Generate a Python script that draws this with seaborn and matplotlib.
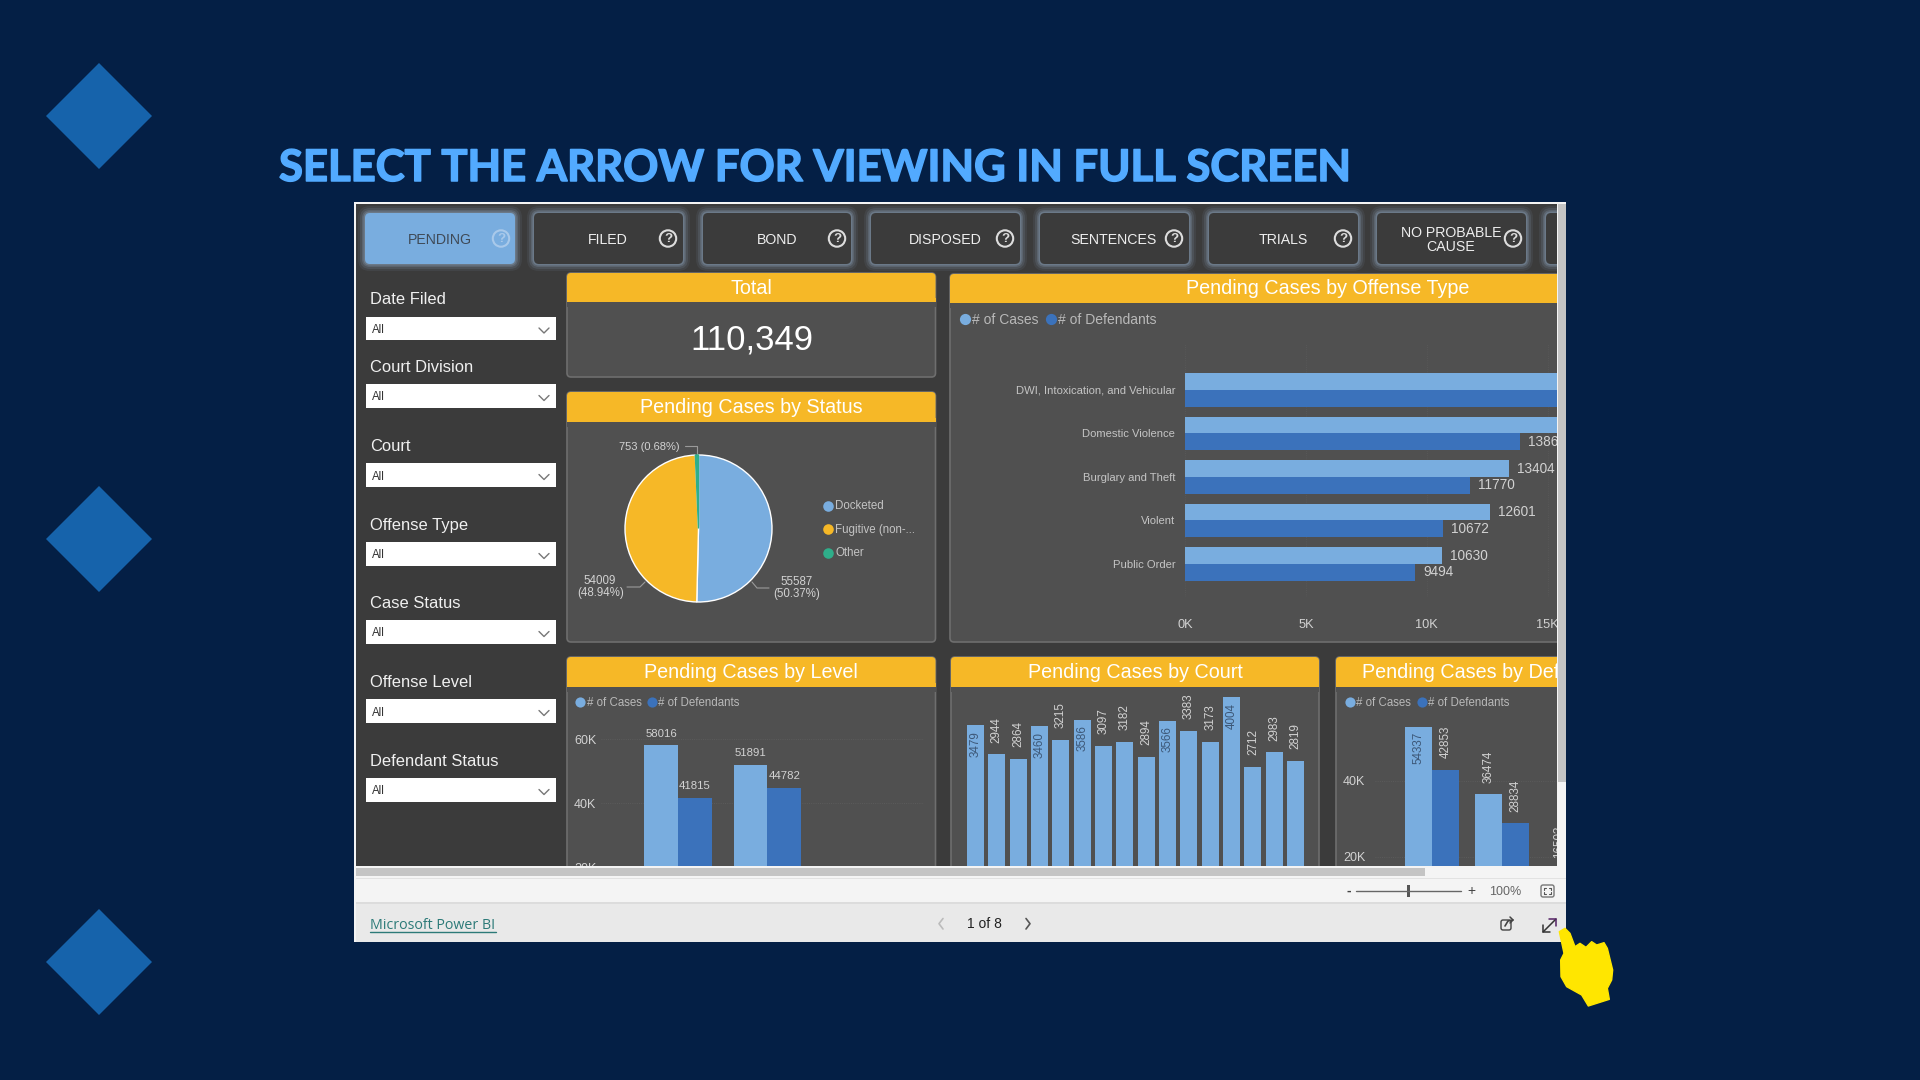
import matplotlib
matplotlib.use("Agg")
import matplotlib.pyplot as plt
import matplotlib.patheffects as pe
from matplotlib.patches import Rectangle, FancyBboxPatch, Circle, Polygon
import pandas as pd
import seaborn as sns

# ---------- data ----------
tabs = ["PENDING", "FILED", "BOND", "DISPOSED", "SENTENCES", "TRIALS", "NO PROBABLE\nCAUSE"]
slicers = ["Date Filed", "Court Division", "Court", "Offense Type", "Case Status", "Offense Level", "Defendant Status"]
total_text = "110,349"

status_names = ["Docketed", "Fugitive (non-...", "Other"]
status_values = [55587, 54009, 753]

offense_types = ["DWI, Intoxication, and Vehicular", "Domestic Violence", "Burglary and Theft", "Violent", "Public Order"]
offense_cases = [17400, 15900, 13404, 12601, 10630]
offense_defs = [16200, 13860, 11770, 10672, 9494]

levels = ["Felony", "Misdemeanor"]
level_cases = [58016, 51891]
level_defs = [41815, 44782]

courts = [f"C{i}" for i in range(1, 17)]
court_cases = [3479, 2944, 2864, 3460, 3215, 3586, 3097, 3182, 2894, 3566, 3383, 3173, 4004, 2712, 2983, 2819]

def_status = ["Bond", "Custody", "Other"]
def_cases = [54337, 36474, 16503]
def_defs = [42853, 28834, 12000]

M1, M2 = "# of Cases", "# of Defendants"

# ---------- colours ----------
NAVY = "#041f45"; DIAMOND = "#1663ab"; TITLE = "#52aaff"
DASH = "#3b3b3b"; CARD = "#505050"; EDGE = "#6e6e6e"; AMBER = "#f6b827"
LIGHT = "#79addf"; DARK = "#3b72bb"; GREEN = "#2fae8a"; TXT = "#d2d2d2"

sns.set_theme(style="white")
plt.rcParams["font.family"] = ["Liberation Sans", "DejaVu Sans"]

W, H = 1920, 1080
fig = plt.figure(figsize=(W / 100, H / 100), dpi=100, facecolor=NAVY)


def px_axes(x0, y0, x1, y1, z):
    ax = fig.add_axes([x0 / W, 1 - y1 / H, (x1 - x0) / W, (y1 - y0) / H], zorder=z)
    ax.patch.set_alpha(0)
    return ax


def canvas(z):
    ax = px_axes(0, 0, W, H, z)
    ax.set_xlim(0, W); ax.set_ylim(H, 0); ax.axis("off")
    return ax


bg = canvas(0)
top = canvas(6)

# ---------- slide background ----------
for cy in (116, 539, 962):
    bg.add_patch(Polygon([(99, cy - 53), (152, cy), (99, cy + 53), (46, cy)], fc=DIAMOND, ec="none"))
bg.text(279, 168, "SELECT THE ARROW FOR VIEWING IN FULL SCREEN", family="Lato", weight="bold",
        fontsize=31.4, color=TITLE, va="center", ha="left",
        path_effects=[pe.withStroke(linewidth=1.1, foreground=TITLE)])

bg.add_patch(Rectangle((354, 202), 1212, 740, fc="#f4f4f4", ec="none"))
bg.add_patch(Rectangle((356, 204), 1201, 664, fc=DASH, ec="none"))


def rbox(ax, x0, y0, x1, y1, r=4, **kw):
    p = FancyBboxPatch((x0 + r, y0 + r), x1 - x0 - 2 * r, y1 - y0 - 2 * r,
                       boxstyle=f"round,pad={r},rounding_size={r}", **kw)
    ax.add_patch(p)
    return p


# ---------- tab buttons ----------
tab_x = [(365, 515), (534, 683), (703, 851), (871, 1020), (1040, 1189), (1209, 1358), (1377, 1526), (1546, 1640)]
tab_tx = [439.5, 608, 776.7, 945, 1114, 1283, 1451]
tab_q = [501, 668, 837, 1005, 1174, 1343, 1513]
for i, (x0, x1) in enumerate(tab_x):
    if x0 > 1540:
        x1 = 1563
    for g, a in ((7, .08), (5, .12), (3, .18), (1.5, .25)):
        rbox(bg, x0 - g, 213 - g, x1 + g, 264 + g, r=5 + g, fc="#9db8d6", ec="none", alpha=a)
    rbox(bg, x0, 213, x1, 264, r=5, fc=LIGHT if i == 0 else DASH, ec="none")
    if i < len(tabs):
        col = "#3f4a57" if i == 0 else "#eeeeee"
        bg.text(tab_tx[i], 240, tabs[i], color=col, fontsize=10.2, ha="center", va="center", linespacing=1.05)
        qc = "#a9c9ea" if i == 0 else "#dddddd"
        bg.add_patch(Circle((tab_q[i], 238.5), 8.2, fc="none", ec=qc, lw=1.5))
        bg.text(tab_q[i], 239.5, "?", color=qc, fontsize=9.5, ha="center", va="center", weight="bold")

# ---------- slicers ----------
lab_y = [298, 366, 445, 524, 602, 681, 760]
box_y = [(317, 340), (384, 408), (463, 487), (542, 566), (620, 644), (699, 723), (778, 802)]
for name, ly, (b0, b1) in zip(slicers, lab_y, box_y):
    bg.text(370, ly + 1.5, name, color="#f0f0f0", fontsize=11.9, va="center", ha="left")
    bg.add_patch(Rectangle((366, b0), 190, b1 - b0, fc="white", ec="none"))
    bg.text(372, (b0 + b1) / 2 + 1.5, "All", color="#333333", fontsize=8.3, va="center", ha="left")
    m = (b0 + b1) / 2 + 2
    bg.plot([539, 544, 549], [m - 2.5, m + 2.5, m - 2.5], color="#777777", lw=1)


# ---------- cards ----------
def card(x0, y0, x1, hdr, y1, title, tx=None):
    rbox(bg, x0, y0, x1, y1, r=4, fc=CARD, ec=EDGE, lw=1.2)
    rbox(bg, x0, y0, x1, hdr + 4, r=4, fc=AMBER, ec="none")
    bg.add_patch(Rectangle((x0, hdr - 4), x1 - x0, 4, fc=AMBER, ec="none"))
    bg.add_patch(Rectangle((x0, hdr), x1 - x0, 5, fc=CARD, ec="none"))
    bg.text(tx if tx else (x0 + x1) / 2, (y0 + hdr) / 2 + .5, title, color="white", fontsize=14.2, ha="center", va="center")


card(567, 273, 935.5, 302, 377, "Total")
bg.text(752, 339.5, total_text, color="white", fontsize=25, ha="center", va="center")
card(567, 392, 935.5, 422, 642, "Pending Cases by Status")
card(950, 274, 1640, 303, 642, "Pending Cases by Offense Type", tx=1328)
card(567, 657, 935.5, 687, 900, "Pending Cases by Level")
card(951, 657, 1319, 687, 900, "Pending Cases by Court")
card(1336, 657, 1700, 687, 900, "Pending Cases by Defendant Status", tx=1522)


def legend(xs, y, size):
    bg.scatter([xs[0]], [y], s=size * 6.5, color=LIGHT, lw=0, zorder=4)
    bg.scatter([xs[2]], [y], s=size * 6.5, color=DARK, lw=0, zorder=4)
    bg.text(xs[1], y + 1, M1, color="#b9b9b9", fontsize=size, va="center", ha="left")
    bg.text(xs[3], y + 1, M2, color="#b9b9b9", fontsize=size, va="center", ha="left")


legend((964.5, 972, 1051, 1058), 319, 10)
legend((580, 587, 652, 658.5), 701.5, 8.3)
legend((1350, 1356, 1421.5, 1428), 701.5, 8.3)
bg.set_xlim(0, W); bg.set_ylim(H, 0)

# ---------- pie ----------
pie_ax = px_axes(625, 455, 772, 602, 2)
wedges, _ = pie_ax.pie(status_values, colors=[LIGHT, AMBER, GREEN], startangle=90, counterclock=False, radius=1.0)
wedges[2].set_edgecolor(GREEN); wedges[2].set_linewidth(1)
pie_ax.set_xlim(-1, 1); pie_ax.set_ylim(-1, 1)
bg.text(649.5, 446.5, "753 (0.68%)", color=TXT, fontsize=8, ha="center", va="center")
bg.plot([685, 697, 697], [446, 446, 455], color="#9a9a9a", lw=.8)
bg.text(623.5, 587, "54009\n(48.94%)", color=TXT, fontsize=8.3, ha="right", va="center", multialignment="center", linespacing=1.05)
bg.plot([627, 640, 645], [587, 587, 582], color="#9a9a9a", lw=.8)
bg.text(773, 588, "55587\n(50.37%)", color=TXT, fontsize=8.3, ha="left", va="center", multialignment="center", linespacing=1.05)
bg.plot([769, 757, 752], [588, 588, 582], color="#9a9a9a", lw=.8)
for name, c, y in zip(status_names, [LIGHT, AMBER, GREEN], [505.7, 529, 552.7]):
    bg.scatter([828], [y], s=58, color=c, lw=0, zorder=4)
    bg.text(835, y + .5, name, color="#c4c4c4", fontsize=8.3, va="center", ha="left")


# ---------- bar helpers ----------
def long_df(cat_name, cats, a, b):
    return pd.DataFrame({cat_name: list(cats) * 2, "count": list(a) + list(b),
                         "measure": [M1] * len(cats) + [M2] * len(cats)})


def clean(ax):
    for s in ax.spines.values():
        s.set_visible(False)
    ax.set_xlabel(""); ax.set_ylabel("")
    ax.patch.set_alpha(0)


# ---------- offense type ----------
a = px_axes(1185, 343, 1557, 597, 2)
sns.barplot(data=long_df("type", offense_types, offense_cases, offense_defs), y="type", x="count", hue="measure",
            palette=[LIGHT, DARK], saturation=1, width=.77, gap=0, legend=False, ax=a, orient="y", linewidth=0)
a.set_xlim(0, 15385); a.set_ylim(4.759, -1.08)
a.set_xticks([0, 5000, 10000, 15000], ["0K", "5K", "10K", "15K"])
a.tick_params(axis="x", length=0, labelsize=9.2, labelcolor=TXT, pad=16)
a.tick_params(axis="y", length=0, labelsize=8.1, labelcolor="#c4c4c4", pad=7)
a.xaxis.grid(True, color="#5a5a5a", lw=.6, ls=":"); a.set_axisbelow(True)
clean(a)
for c in a.containers:
    a.bar_label(c, fmt="%d", padding=6, color=TXT, fontsize=9.8, clip_on=True)


# ---------- level ----------
b = px_axes(600.6, 690, 924, 932, 2)
sns.barplot(data=long_df("level", levels, level_cases, level_defs), x="level", y="count", hue="measure",
            palette=[LIGHT, DARK], saturation=1, width=.756, gap=0, legend=False, ax=b, linewidth=0)
b.set_xlim(-0.865, 2.75); b.set_ylim(0, 75260)
b.set_yticks([20000, 40000, 60000], ["20K", "40K", "60K"])
b.tick_params(axis="y", length=0, labelsize=9, labelcolor=TXT, pad=3)
b.set_xticks([])
b.yaxis.grid(True, color="#5f5f5f", lw=.6, ls=":"); b.set_axisbelow(True)
clean(b)
for c in b.containers:
    b.bar_label(c, fmt="%d", padding=5, color=TXT, fontsize=8.2)


# ---------- rotated labels ----------
def vlabels(ax, bars, values, inside_min, fs):
    for p, v in zip(bars, values):
        xc = p.get_x() + p.get_width() / 2
        inside = v >= inside_min
        ax.annotate(str(v), xy=(xc, v), xytext=(0, -4 if inside else 8.5), textcoords="offset points",
                    rotation=90, ha="center", va="top" if inside else "bottom",
                    color="#3d5878" if inside else TXT, fontsize=fs, clip_on=True, annotation_clip=False)


# ---------- court ----------
c_ax = px_axes(964.5, 690, 1306.5, 914, 2)
sns.barplot(x=courts, y=court_cases, color=LIGHT, saturation=1, width=.79, ax=c_ax, linewidth=0)
c_ax.set_xlim((964.5 - 975.5) / 21.34, (1306.5 - 975.5) / 21.34); c_ax.set_ylim(0, 4133)
c_ax.set_xticks([]); c_ax.set_yticks([])
clean(c_ax)
vlabels(c_ax, c_ax.patches, court_cases, 3450, 8.4)

# ---------- defendant status ----------
d = px_axes(1375, 690, 1557, 933, 2)
sns.barplot(data=long_df("status", def_status, def_cases, def_defs), x="status", y="count", hue="measure",
            palette=[LIGHT, DARK], saturation=1, width=.77, gap=0, legend=False, ax=d, linewidth=0)
d.set_xlim(-0.82, 1.783); d.set_ylim(0, 63947)
d.set_yticks([20000, 40000], ["20K", "40K"])
d.tick_params(axis="y", length=0, labelsize=9, labelcolor=TXT, pad=7)
d.set_xticks([])
d.yaxis.grid(True, color="#5f5f5f", lw=.6, ls=":"); d.set_axisbelow(True)
clean(d)
vlabels(d, d.containers[0], def_cases, 50000, 8.4)
vlabels(d, d.containers[1], def_defs, 50000, 8.4)

# ---------- report frame on top (hides what the viewport cuts off) ----------
top.add_patch(Rectangle((1566, 202), 300, 700, fc=NAVY, ec="none"))
top.add_patch(Rectangle((354, 866), 1212, 76, fc="#f4f4f4", ec="none"))
top.add_patch(Rectangle((356, 868), 1069, 8, fc="#c4c4c4", ec="none"))
top.add_patch(Rectangle((354, 878), 1212, 1, fc="#e2e2e2", ec="none"))
top.add_patch(Rectangle((354, 902), 1212, 2, fc="#dcdcdc", ec="none"))
top.add_patch(Rectangle((354, 904), 1212, 38, fc="#e9e9e9", ec="none"))
top.add_patch(Rectangle((1557, 202), 9, 676, fc="#f4f4f4", ec="none"))
top.add_patch(Rectangle((1558, 204), 8, 578, fc="#c4c4c4", ec="none"))
top.add_patch(Rectangle((354, 202), 2, 740, fc="#f4f4f4", ec="none"))

top.plot([1356, 1461], [891, 891], color="#666666", lw=1)
top.add_patch(Rectangle((1406.5, 885), 3, 12, fc="#555555", ec="none"))
top.text(1348.5, 890.5, "-", color="#444444", fontsize=10, ha="center", va="center", weight="bold")
top.text(1471, 891, "+", color="#444444", fontsize=10, ha="center", va="center")
top.text(1505, 892, "100%", color="#666666", fontsize=9, ha="center", va="center")
rbox(top, 1541, 885, 1554, 897, r=2, fc="none", ec="#777777", lw=1)
for sx, sy in ((1544, 888), (1551, 888), (1544, 894), (1551, 894)):
    dx = 2 if sx < 1547 else -2
    dy = 2 if sy < 891 else -2
    top.plot([sx + dx, sx, sx], [sy, sy, sy + dy], color="#555555", lw=.8)

top.text(369.5, 925.5, "Microsoft Power BI", color="#2c7a78", fontsize=10.3, family="Open Sans", va="center", ha="left")
top.plot([369.5, 496], [932, 932], color="#2c7a78", lw=1)
top.text(984.5, 924.5, "1 of 8", color="#222222", fontsize=10, ha="center", va="center")
top.plot([943, 939, 943], [918.5, 923.7, 929], color="#bbbbbb", lw=1.2)
top.plot([1026, 1030, 1026], [918.5, 923.7, 929], color="#555555", lw=1.2)
rbox(top, 1501, 920, 1511, 930, r=2, fc="none", ec="#444444", lw=1)
top.plot([1505, 1508, 1513], [926, 921, 920], color="#444444", lw=1.2)
top.plot([1510, 1513, 1510], [917, 920, 923], color="#444444", lw=1.1)
top.plot([1543, 1556], [932, 919], color="#333333", lw=1.1)
top.plot([1549, 1556, 1556], [919, 919, 926], color="#552266", lw=1.1)
top.plot([1543, 1543, 1550], [925, 932, 932], color="#333333", lw=1.1)

# ---------- pointing hand ----------
hand_zoom = [(178, 425), (195, 415), (210, 430), (225, 470), (240, 460), (258, 472), (275, 455), (290, 465),
             (312, 458), (322, 475), (338, 540), (335, 570), (322, 595), (328, 628), (265, 648), (245, 615),
             (200, 590), (183, 560), (182, 510), (192, 490)]
top.add_patch(Polygon([(1500 + x / 3, 790 + y / 3) for x, y in hand_zoom], fc="#ffe600", ec="#ffe600", lw=1, joinstyle="round"))
top.set_xlim(0, W); top.set_ylim(H, 0)

fig.savefig("out.png", dpi=100, facecolor=NAVY)
